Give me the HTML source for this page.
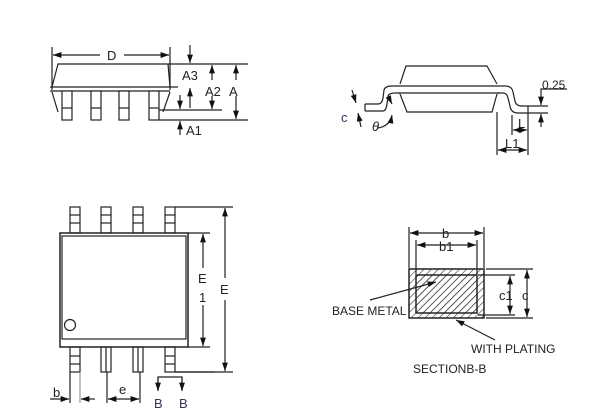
<!DOCTYPE html>
<html><head><style>
html,body{margin:0;padding:0;background:#fff;}
svg{display:block;}
text{font-family:"Liberation Sans",sans-serif;font-size:13px;fill:#222;}
</style></head><body>
<svg width="600" height="415" viewBox="0 0 600 415" xmlns="http://www.w3.org/2000/svg">
<defs>
<marker id="ar" viewBox="0 0 10 10" refX="10" refY="5" markerWidth="7" markerHeight="7" orient="auto-start-reverse"><path d="M0,1.5 L10,5 L0,8.5 z" fill="#111"/></marker>
<pattern id="h" width="5" height="5" patternUnits="userSpaceOnUse" patternTransform="rotate(45)"><line x1="0" y1="0" x2="0" y2="5" stroke="#333" stroke-width="1.2"/></pattern>
</defs>
<g stroke="#222" stroke-width="1.2" fill="none">
<line x1="52" y1="47" x2="52" y2="90"/><line x1="170" y1="47" x2="170" y2="90"/>
<line x1="53" y1="55" x2="100" y2="55" marker-start="url(#ar)"/><line x1="124" y1="55" x2="169" y2="55" marker-end="url(#ar)"/>
<path d="M52,87 L58,64 L168,64 L170,87"/>
<line x1="50" y1="87" x2="178" y2="87"/><line x1="50" y1="91" x2="170" y2="91"/>
<path d="M52,92 L58,112"/><path d="M170,92 L163,112"/>
<g fill="#fff">
<rect x="62" y="91" width="10" height="29"/><rect x="91" y="91" width="10" height="29"/><rect x="119" y="91" width="10" height="29"/><rect x="149" y="91" width="10" height="29"/>
</g>
<line x1="62" y1="108" x2="72" y2="108"/><line x1="91" y1="108" x2="101" y2="108"/><line x1="119" y1="108" x2="129" y2="108"/><line x1="149" y1="108" x2="159" y2="108"/>
<line x1="168" y1="64" x2="248" y2="64"/><line x1="159" y1="110" x2="222" y2="110"/><line x1="159" y1="120" x2="248" y2="120"/>
<line x1="190" y1="45" x2="190" y2="63" marker-end="url(#ar)"/>
<line x1="190" y1="108" x2="190" y2="88" marker-end="url(#ar)"/>
<line x1="180" y1="95" x2="180" y2="109" marker-end="url(#ar)"/>
<line x1="180" y1="135" x2="180" y2="121" marker-end="url(#ar)"/>
<line x1="212" y1="80" x2="212" y2="65" marker-end="url(#ar)"/><line x1="212" y1="96" x2="212" y2="109" marker-end="url(#ar)"/>
<line x1="236" y1="80" x2="236" y2="65" marker-end="url(#ar)"/><line x1="236" y1="96" x2="236" y2="119" marker-end="url(#ar)"/>
<path d="M400,84 L406,66 L487,66 L497,84"/>
<line x1="398" y1="86" x2="500" y2="86"/><line x1="398" y1="93" x2="500" y2="93"/>
<path d="M400,94 L407,112 L492,112 L497,94"/>
<path d="M365,104 L378,104 Q382,104 383,98 L384,90 Q385,86 392,86 L398,86"/>
<path d="M365,111 L383,111 Q386,111 387,104 L388,96 Q389,93 395,93 L400,93"/>
<path d="M500,86 L505,86 Q512,86 513,92 L515,101 Q516,106 522,106 L548,106"/>
<path d="M497,93 L503,93 Q507,93 508,98 L510,106 Q511,113 518,113 L548,113"/>
<line x1="365" y1="104" x2="365" y2="111"/><line x1="528" y1="106" x2="528" y2="155"/>
<line x1="497" y1="112" x2="497" y2="155"/>
<line x1="512" y1="115" x2="512" y2="135"/>
<line x1="352" y1="90" x2="356" y2="103" marker-end="url(#ar)"/><line x1="361" y1="127" x2="358" y2="113" marker-end="url(#ar)"/>
<path d="M378,128 Q390,126 392,115" marker-end="url(#ar)"/>
<path d="M390,100 L392,104" marker-end="url(#ar)"/>
<line x1="541" y1="96" x2="541" y2="105" marker-end="url(#ar)"/><line x1="541" y1="127" x2="541" y2="114" marker-end="url(#ar)"/>
<path d="M541,96 L541,89 L567,89"/>
<line x1="513" y1="130" x2="527" y2="130" marker-start="url(#ar)" marker-end="url(#ar)"/>
<line x1="498" y1="150" x2="527" y2="150" marker-start="url(#ar)" marker-end="url(#ar)"/>
<g fill="#fff">
<rect x="70" y="207" width="10" height="26"/><rect x="101" y="207" width="10" height="26"/><rect x="133" y="207" width="10" height="26"/><rect x="165" y="207" width="10" height="26"/>
<rect x="70" y="347" width="10" height="25"/><rect x="101" y="347" width="10" height="25"/><rect x="133" y="347" width="10" height="25"/><rect x="165" y="347" width="10" height="25"/>
</g>
<g>
<line x1="70" y1="215" x2="80" y2="215"/><line x1="70" y1="223" x2="80" y2="223"/><line x1="101" y1="215" x2="111" y2="215"/><line x1="101" y1="223" x2="111" y2="223"/>
<line x1="133" y1="215" x2="143" y2="215"/><line x1="133" y1="223" x2="143" y2="223"/><line x1="165" y1="215" x2="175" y2="215"/><line x1="165" y1="223" x2="175" y2="223"/>
<line x1="70" y1="356" x2="80" y2="356"/><line x1="70" y1="364" x2="80" y2="364"/><line x1="165" y1="356" x2="175" y2="356"/><line x1="165" y1="364" x2="175" y2="364"/>
<line x1="106" y1="347" x2="106" y2="372"/><line x1="138" y1="347" x2="138" y2="372"/>
</g>
<rect x="60" y="233" width="128" height="114" stroke-width="1.5"/>
<rect x="62" y="236" width="124" height="103"/>
<circle cx="70" cy="325" r="5.5"/>
<line x1="175" y1="207" x2="233" y2="207"/><line x1="188" y1="233" x2="210" y2="233"/><line x1="188" y1="347" x2="210" y2="347"/><line x1="175" y1="372" x2="233" y2="372"/>
<line x1="203" y1="268" x2="203" y2="234" marker-end="url(#ar)"/><line x1="203" y1="305" x2="203" y2="346" marker-end="url(#ar)"/>
<line x1="225" y1="278" x2="225" y2="208" marker-end="url(#ar)"/><line x1="225" y1="300" x2="225" y2="371" marker-end="url(#ar)"/>
<line x1="70" y1="372" x2="70" y2="403"/><line x1="80" y1="372" x2="80" y2="403" stroke="#999"/>
<line x1="50" y1="399" x2="69" y2="399" marker-end="url(#ar)"/><line x1="95" y1="399" x2="81" y2="399" marker-end="url(#ar)"/>
<line x1="107" y1="372" x2="107" y2="403"/><line x1="140" y1="372" x2="140" y2="403"/>
<line x1="108" y1="399" x2="139" y2="399" marker-start="url(#ar)" marker-end="url(#ar)"/>
<path d="M158,390 L158,377 L182,377 L182,390"/><line x1="158" y1="377" x2="158" y2="391" marker-end="url(#ar)"/><line x1="182" y1="377" x2="182" y2="391" marker-end="url(#ar)"/>
<line x1="175" y1="372" x2="215" y2="372"/>
<rect x="409" y="269" width="75" height="49" fill="url(#h)" stroke-width="1.5"/>
<rect x="416" y="275" width="61" height="38" fill="url(#h)" stroke-width="1.5"/>
<line x1="409" y1="227" x2="409" y2="268"/><line x1="484" y1="227" x2="484" y2="268"/>
<line x1="416" y1="240" x2="416" y2="274"/><line x1="477" y1="240" x2="477" y2="274"/>
<line x1="410" y1="233" x2="483" y2="233" marker-start="url(#ar)" marker-end="url(#ar)"/>
<line x1="417" y1="245" x2="476" y2="245" marker-start="url(#ar)" marker-end="url(#ar)"/>
<line x1="486" y1="269" x2="533" y2="269"/><line x1="486" y1="318" x2="533" y2="318"/>
<line x1="478" y1="275" x2="515" y2="275"/><line x1="478" y1="315" x2="515" y2="315"/>
<line x1="510" y1="276" x2="510" y2="314" marker-start="url(#ar)" marker-end="url(#ar)"/>
<line x1="527" y1="270" x2="527" y2="317" marker-start="url(#ar)" marker-end="url(#ar)"/>
<line x1="370" y1="300" x2="436" y2="282" marker-end="url(#ar)"/>
<line x1="495" y1="340" x2="456" y2="320" marker-end="url(#ar)"/>
</g>
<g>
<rect x="104" y="47" width="18" height="14" fill="#fff"/>
<text x="107" y="60">D</text>
<text x="182" y="80">A3</text><text x="205" y="96">A2</text><text x="229" y="96">A</text><text x="186" y="135">A1</text>
<text x="341" y="122" style="fill:#335">c</text><text x="372" y="131" style="font-style:italic">θ</text>
<text x="542" y="89" style="font-size:12px">0.25</text><text x="518" y="128">L</text><text x="505" y="148">L1</text>
<text x="198" y="283">E</text><text x="199" y="302">1</text><text x="220" y="294">E</text>
<text x="53" y="397">b</text><text x="119" y="394">e</text>
<text x="154" y="408" style="fill:#335">B</text><text x="179" y="408" style="fill:#335">B</text>
<text x="442" y="238">b</text><text x="439" y="251">b1</text>
<text x="499" y="300">c1</text><text x="522" y="300">c</text>
<text x="332" y="315" style="font-size:12px">BASE METAL</text>
<text x="471" y="353" style="font-size:12px">WITH PLATING</text>
<text x="413" y="373" style="font-size:12px">SECTIONB-B</text>
</g>
</svg>
</body></html>
